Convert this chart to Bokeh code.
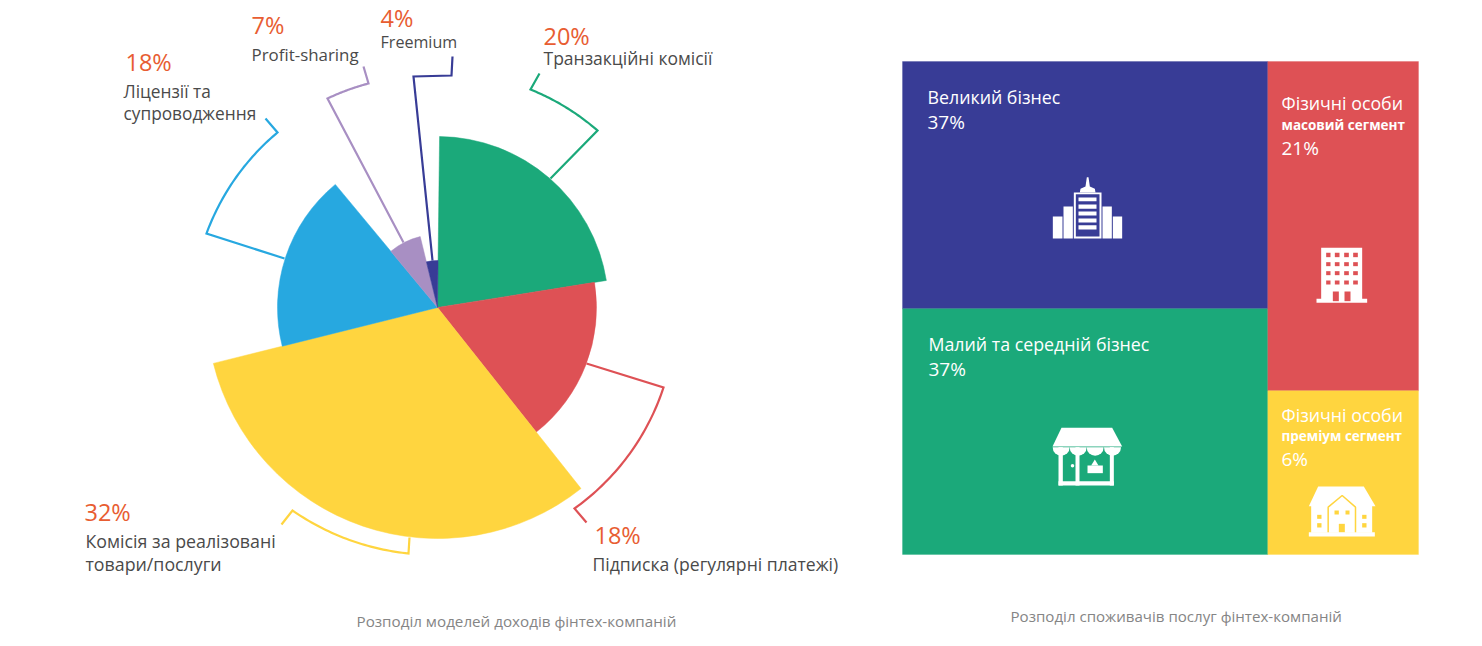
import numpy as np
from bokeh.core.properties import value
from bokeh.plotting import figure
from bokeh.models import Range1d
from bokeh.embed import file_html
from bokeh.resources import INLINE

# ---------- data ----------
model_names = ["Транзакційні комісії", "Підписка (регулярні платежі)", "Комісія за реалізовані\nтовари/послуги",
               "Ліцензії та\nсупроводження", "Profit-sharing", "Freemium"]
model_share = [20, 18, 32, 18, 7, 4]
model_sweep_deg = [80.2, 60.7, 114.4, 64.3, 26.0, 14.4]
model_radius = [171, 159, 231, 160, 73, 47]
model_colors = ["#1BA97A", "#DE5155", "#FFD53F", "#27A8E0", "#A88FC3", "#383C96"]

segment_names = ["Великий бізнес", "Малий та середній бізнес", "Фізичні особи", "Фізичні особи"]
segment_sub = ["", "", "масовий сегмент", "преміум сегмент"]
segment_share = [37, 37, 21, 6]
segment_drawn_area = [35.5, 35.3, 19.5, 9.7]
segment_colors = ["#383C96", "#1BA97A", "#DE5155", "#FFD53F"]

caption_left = "Розподіл моделей доходів фінтех-компаній"
caption_right = "Розподіл споживачів послуг фінтех-компаній"

# ---------- layout (page pixels) ----------
W, H = 1474, 638
FONT = "Open Sans"
ORANGE, DARK, GREY, WHITE = "#E85D32", "#4A4A4A", "#858585", "#FFFFFF"
CX, CY = 437, 307
PIE_START = 89.3


def Y(py):
    return 646 - np.asarray(py, dtype=float)


p = figure(width=W, height=H, output_backend="svg", toolbar_location=None,
           x_range=Range1d(0, W), y_range=Range1d(646 - H, 646),
           min_border=0, outline_line_color=None, background_fill_color="#FFFFFF")
p.axis.visible = False
p.grid.visible = False

# ---------- pie ----------
ends = PIE_START - np.cumsum(model_sweep_deg)
starts = np.concatenate([[PIE_START], ends[:-1]])
for s, e, r, c in zip(starts, ends, model_radius, model_colors):
    p.wedge(x=[CX], y=[Y(CY)], radius=[r], start_angle=[e], end_angle=[s], start_angle_units="deg",
            end_angle_units="deg", fill_color=c, line_color=c, line_width=0.5)


def leader(pts, color, arc=True):
    """pts = start, corner, arc end, tail; the corner -> arc end part bends round the pie centre."""
    (x0, y0), (x1, y1), (x2, y2), (x3, y3) = pts
    if arc:
        a1, a2 = np.arctan2(y1 - CY, x1 - CX), np.arctan2(y2 - CY, x2 - CX)
        r1, r2 = np.hypot(x1 - CX, y1 - CY), np.hypot(x2 - CX, y2 - CY)
        t = np.linspace(0, 1, 40)
        ang, rad = a1 + (a2 - a1) * t, r1 + (r2 - r1) * t
        ax, ay = CX + rad * np.cos(ang), CY + rad * np.sin(ang)
    else:
        ax, ay = np.array([x1, x2]), np.array([y1, y2])
    xs = np.concatenate([[x0], ax, [x3]])
    ys = np.concatenate([[y0], ay, [y3]])
    p.line(xs, Y(ys), line_color=color, line_width=2.2, line_join="miter")


leader([(550, 178), (597, 130), (530, 89), (539, 73)], model_colors[0])
leader([(586, 363), (663, 387), (574, 508), (586, 522)], model_colors[1])
leader([(409, 537), (408, 553), (292, 510), (281, 524)], model_colors[2])
leader([(284, 258), (206, 233), (277, 132), (265, 118)], model_colors[3])
leader([(403, 242), (327, 98), (368, 83), (363, 66)], model_colors[4])
leader([(432, 260), (413, 76), (451, 75), (452, 56)], model_colors[5], arc=False)


def txt(x, y, s, size, color=DARK, style="normal"):
    p.text(x=[x], y=[Y(y - 0.42 * size)], text=[s], text_font=value(FONT), text_font_size=value(f"{size}px"),
           text_color=color, text_baseline="alphabetic", text_align="left", text_font_style=style)


pct_pos = [(543, 45), (594, 544), (84, 521), (125, 71), (251, 34), (380, 27)]
lab_pos = [[(543, 65)], [(592, 571)], [(85, 548), (85, 571)], [(123, 98), (123, 120)], [(251, 61)], [(380, 48)]]
lab_size = [17.5, 17.6, 17.8, 17.3, 16.9, 16.1]
for share, name, pp, lp, ls in zip(model_share, model_names, pct_pos, lab_pos, lab_size):
    txt(pp[0], pp[1], f"{share}%", 23.5, ORANGE)
    for line, (lx, ly) in zip(name.split("\n"), lp):
        txt(lx, ly, line, ls)

txt(356, 627, caption_left, 15.2, GREY)
txt(1010, 622, caption_right, 15.1, GREY)

# ---------- treemap ----------
BX, BY, BW, BH = 902, 61, 516, 493
a = segment_drawn_area
left_w = BW * (a[0] + a[1]) / sum(a)
h0 = BH * a[0] / (a[0] + a[1])
h2 = BH * a[2] / (a[2] + a[3])
tx0 = [BX, BX, BX + left_w, BX + left_w]
tx1 = [BX + left_w, BX + left_w, BX + BW, BX + BW]
ty0 = [BY, BY + h0, BY, BY + h2]
ty1 = [BY + h0, BY + BH, BY + h2, BY + BH]
p.quad(left=tx0, right=tx1, top=Y(ty0), bottom=Y(ty1), fill_color=segment_colors, line_color=segment_colors,
       line_width=0.3)

seg_pos = [[(927, 104), None, (927, 129)], [(928, 351), None, (928, 376)],
           [(1281, 110), (1281, 130), (1281, 155)], [(1281, 422), (1281, 441), (1281, 466)]]
for name, sub, share, pos in zip(segment_names, segment_sub, segment_share, seg_pos):
    txt(pos[0][0], pos[0][1], name, 17.8, WHITE)
    if sub:
        txt(pos[1][0], pos[1][1], sub, 13.5, WHITE, "bold")
    txt(pos[2][0], pos[2][1], f"{share}%", 19, WHITE)


# ---------- icons, drawn in zoom units (3 per pixel) round an origin ----------
def box(ox, oy, x0, x1, y0, y1, color=WHITE):
    p.quad(left=[ox + x0 / 3], right=[ox + x1 / 3], top=Y([oy + y0 / 3]), bottom=Y([oy + y1 / 3]),
           fill_color=color, line_color=None)


def poly(ox, oy, pts, color=WHITE):
    xs = [ox + q[0] / 3 for q in pts]
    ys = [oy + q[1] / 3 for q in pts]
    p.patch(xs, Y(ys), fill_color=color, line_color=None)


# office towers
ox, oy = 1000, 160
for x0, x1, y0 in [(157, 186, 168), (189, 217, 138), (306, 334, 138), (337, 365, 168)]:
    box(ox, oy, x0, x1, y0, 234)
box(ox, oy, 220, 303, 96, 234)
box(ox, oy, 226, 297, 101, 228, segment_colors[0])
for y0, y1 in [(111, 122), (132, 145), (153, 165), (174, 186), (194, 207)]:
    box(ox, oy, 234, 288, y0, y1)
poly(ox, oy, [(238, 96), (240, 85), (255, 78), (259, 50), (264, 50), (268, 78), (283, 85), (285, 96)])

# apartment block
ox, oy = 1290, 230
box(ox, oy, 92, 215, 52, 206)
box(ox, oy, 78, 230, 205, 217)
for x0, x1 in [(107, 120), (133, 147), (161, 175), (188, 202)]:
    for y0, y1 in [(67, 80), (95, 107), (122, 134), (150, 162)]:
        box(ox, oy, x0, x1, y0, y1, segment_colors[2])
box(ox, oy, 127, 145, 183, 212, segment_colors[2])
box(ox, oy, 162, 180, 183, 212, segment_colors[2])

# shop
ox, oy = 1030, 415
poly(ox, oy, [(93, 37), (245, 37), (275, 93), (66, 93)])
for x0, x1 in [(84, 97), (135, 147), (238, 250)]:
    box(ox, oy, x0, x1, 95, 210)
box(ox, oy, 84, 250, 197, 210)
for cx in [92, 143, 194, 246]:
    p.wedge(x=[ox + cx / 3], y=[Y(oy + 95 / 3)], radius=[8.5], start_angle=[180], end_angle=[360],
            start_angle_units="deg", end_angle_units="deg", fill_color=WHITE, line_color=None)
p.scatter(x=[ox + 126 / 3], y=[Y(oy + 151 / 3)], size=3.5, fill_color=WHITE, line_color=None)
box(ox, oy, 171, 217, 150, 173)
poly(ox, oy, [(193, 132), (204, 150), (182, 150)])

# house
ox, oy = 1295, 475
poly(ox, oy, [(68, 33), (205, 33), (240, 92), (40, 92)])
box(ox, oy, 47, 230, 90, 172)
box(ox, oy, 40, 238, 170, 183)
G = segment_colors[3]
p.line([ox + 98 / 3, ox + 98 / 3, ox + 140 / 3, ox + 180 / 3, ox + 180 / 3], Y([oy + 170 / 3, oy + 95 / 3, oy + 60 / 3, oy + 95 / 3, oy + 170 / 3]),
       line_color=G, line_width=1.5)
for x0, x1, y0, y1 in [(65, 78, 118, 130), (65, 78, 143, 156), (200, 213, 118, 130), (200, 213, 143, 156),
                       (117, 130, 105, 117), (150, 162, 105, 117), (130, 148, 145, 170)]:
    box(ox, oy, x0, x1, y0, y1, G)

open("out.html", "w").write(file_html(p, INLINE))
